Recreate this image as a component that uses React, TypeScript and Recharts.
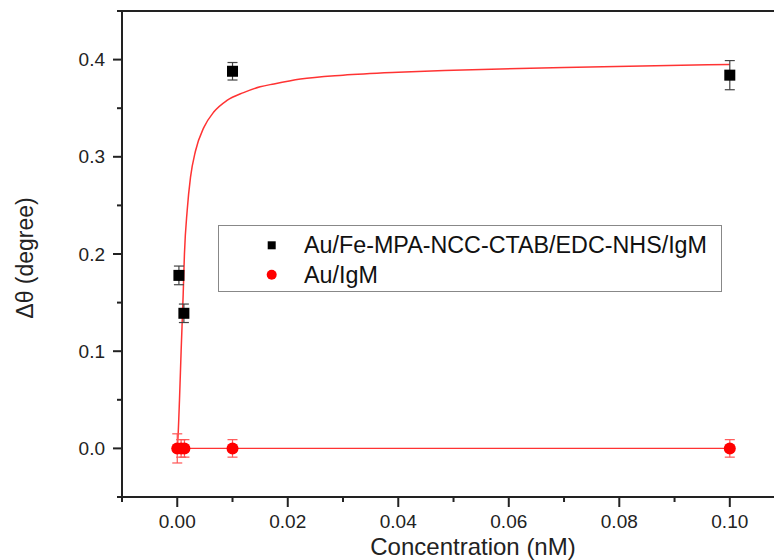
import React from 'react';
import { ComposedChart, Scatter, Line, XAxis, YAxis, ErrorBar, ReferenceLine, Legend } from 'recharts';

const FONT = '"Liberation Sans", Arial, Helvetica, sans-serif';

const seriesNames = ['Au/Fe-MPA-NCC-CTAB/EDC-NHS/IgM', 'Au/IgM'];

const blackX = [0.0003, 0.0012, 0.01, 0.1];
const blackY = [0.178, 0.139, 0.388, 0.384];
const blackErr = [0.0096, 0.0095, 0.009, 0.015];

const redX = [0, 0.0007, 0.0013, 0.01, 0.1];
const redY = [0, 0, 0, 0, 0];
const redErr = [0.015, 0.009, 0.009, 0.009, 0.009];

const fitX = [0, 0.0001, 0.0004, 0.0007, 0.00107, 0.0013, 0.0018, 0.0024, 0.0033, 0.0048, 0.0066, 0.009, 0.012, 0.015, 0.0175, 0.0223, 0.03, 0.04, 0.05, 0.07, 0.1];
const fitY = [0, 0.008, 0.049, 0.1, 0.158, 0.2, 0.245, 0.279, 0.306, 0.33, 0.346, 0.358, 0.366, 0.372, 0.375, 0.38, 0.384, 0.387, 0.389, 0.392, 0.395];

const xTicks = [-0.01, 0, 0.01, 0.02, 0.03, 0.04, 0.05, 0.06, 0.07, 0.08, 0.09, 0.1];
const yTicks = [-0.05, 0, 0.05, 0.1, 0.15, 0.2, 0.25, 0.3, 0.35, 0.4, 0.45];
const xDomain = [-0.01, 0.108];
const yDomain = [-0.05, 0.45];
const xTitle = 'Concentration (nM)';
const yTitle = 'Δθ (degree)';

const blackData = blackX.map((x, i) => ({ x, y: blackY[i], err: blackErr[i] }));
const redData = redX.map((x, i) => ({ x, y: redY[i], err: redErr[i] }));
const fitData = fitX.map((x, i) => ({ x, y: fitY[i] }));
const redLineData = redX.map((x, i) => ({ x, y: redY[i] }));

const isMult = (v: number, step: number) => Math.abs(v / step - Math.round(v / step)) < 1e-6;

const XTick = (props: any) => {
  const { x, y, payload } = props;
  const v = payload.value as number;
  const major = v > -1e-9 && isMult(v, 0.02);
  return (
    <g>
      <line x1={x} x2={x} y1={y} y2={y + (major ? 10 : 5)} stroke="#222" strokeWidth={2} />
      {major && (
        <text x={x} y={y + 31} textAnchor="middle" fontSize={19} fill="#222" fontFamily={FONT}>
          {v.toFixed(2)}
        </text>
      )}
    </g>
  );
};

const YTick = (props: any) => {
  const { x, y, payload } = props;
  const v = payload.value as number;
  const major = v > -1e-9 && v < 0.41 && isMult(v, 0.1);
  return (
    <g>
      <line x1={x - (major ? 9 : 5)} x2={x} y1={y} y2={y} stroke="#222" strokeWidth={2} />
      {major && (
        <text x={x - 17} y={y} dy="0.35em" textAnchor="end" fontSize={19} fill="#222" fontFamily={FONT}>
          {v.toFixed(1)}
        </text>
      )}
    </g>
  );
};

const XTitle = (props: any) => {
  const vb = props.viewBox || { x: 122, y: 497, width: 652, height: 63 };
  return (
    <text x={vb.x + vb.width / 2 + 25} y={vb.y + 58} textAnchor="middle" fontSize={24} fill="#222" fontFamily={FONT}>
      {xTitle}
    </text>
  );
};

const YTitle = (props: any) => {
  const vb = props.viewBox || { x: 0, y: 11, width: 122, height: 486 };
  const cx = vb.x + 33;
  const cy = vb.y + vb.height / 2 + 4;
  return (
    <text x={cx} y={cy} transform={`rotate(-90, ${cx}, ${cy})`} textAnchor="middle" fontSize={23} fill="#222" fontFamily={FONT}>
      {yTitle}
    </text>
  );
};

const LegendBox = () => (
  <svg width={504} height={67} style={{ display: 'block' }}>
    <rect x={0.5} y={0.5} width={503} height={66} fill="#fff" stroke="#888" strokeWidth={1} />
    <rect x={49.7} y={16.3} width={8} height={8} fill="#000" />
    <text x={86} y={28} fontSize={23.3} fill="#111" fontFamily={FONT}>{seriesNames[0]}</text>
    <circle cx={53.7} cy={49.7} r={5} fill="#ff0000" />
    <text x={86} y={58} fontSize={23.3} fill="#111" fontFamily={FONT}>{seriesNames[1]}</text>
  </svg>
);

const Square = (p: any) => <rect x={p.cx - 5.5} y={p.cy - 5.5} width={11} height={11} fill="#000" />;
const Dot = (p: any) => <circle cx={p.cx} cy={p.cy} r={6} fill="#ff0000" />;

export default function App() {
  return (
    <div style={{ position: 'absolute', left: 0, top: 0, width: 774, height: 560, background: '#fff' }}>
      <ComposedChart width={774} height={560} margin={{ top: 11, right: 0, bottom: 0, left: 0 }}>
        <XAxis
          type="number"
          dataKey="x"
          domain={xDomain}
          ticks={xTicks}
          interval={0}
          allowDataOverflow
          height={63}
          tickSize={0}
          tickMargin={0}
          tickLine={false}
          axisLine={{ stroke: '#222', strokeWidth: 2 }}
          tick={<XTick />}
          label={<XTitle />}
        />
        <YAxis
          type="number"
          dataKey="y"
          domain={yDomain}
          ticks={yTicks}
          interval={0}
          allowDataOverflow
          width={122}
          tickSize={0}
          tickMargin={0}
          tickLine={false}
          axisLine={{ stroke: '#222', strokeWidth: 2 }}
          tick={<YTick />}
          label={<YTitle />}
        />
        <ReferenceLine y={0.45} stroke="#222" strokeWidth={2} ifOverflow="visible" />
        <Line data={redLineData} dataKey="y" type="linear" dot={false} stroke="#ff3333" strokeWidth={1.3} isAnimationActive={false} legendType="none" />
        <Line data={fitData} dataKey="y" type="monotone" dot={false} stroke="#ff3333" strokeWidth={1.5} isAnimationActive={false} legendType="none" />
        <Scatter name={seriesNames[0]} data={blackData} dataKey="y" shape={Square} isAnimationActive={false}>
          <ErrorBar dataKey="err" direction="y" width={5} stroke="#444" strokeWidth={1.2} />
        </Scatter>
        <Scatter name={seriesNames[1]} data={redData} dataKey="y" shape={Dot} isAnimationActive={false}>
          <ErrorBar dataKey="err" direction="y" width={5} stroke="#ff5555" strokeWidth={1.2} />
        </Scatter>
        <Legend
          layout="vertical"
          verticalAlign="middle"
          align="center"
          wrapperStyle={{ position: 'absolute', left: 218, top: 225, width: 504, height: 67 }}
          content={<LegendBox />}
        />
      </ComposedChart>
    </div>
  );
}
